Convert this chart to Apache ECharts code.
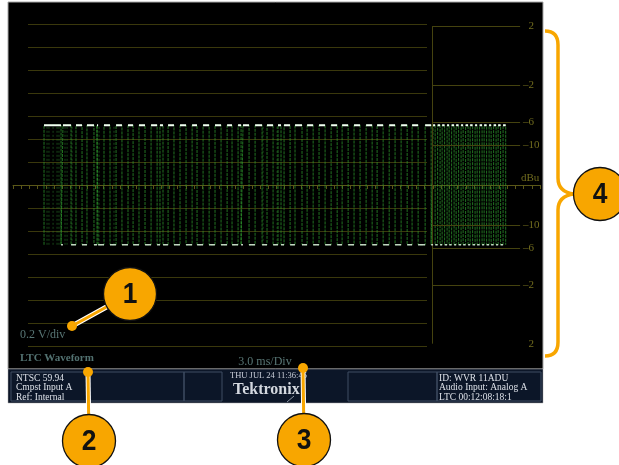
<!DOCTYPE html>
<html><head><meta charset="utf-8">
<script src="https://cdn.jsdelivr.net/npm/echarts@6/dist/echarts.min.js"></script>
<style>html,body{margin:0;padding:0;background:#fff;}#c{width:619px;height:465px;}</style>
</head><body><div id="c"></div>
<script>
// ---------------- data ----------------
const voltsPerDiv = 0.2;          // vertical scale
const msPerDiv = 3.0;             // horizontal scale
const highLevelV = 0.52;          // LTC top level
const lowLevelV = -0.52;          // LTC bottom level
const traceEndMs = 35.93;
// high pulses of the LTC trace: [rise ms, fall ms]
const pulsesMs = [
  [2.26,3.50],[3.64,4.23],[4.59,5.03],[5.39,5.90],[6.12,6.20],[6.63,7.07],[7.51,7.94],
  [8.38,8.75],[9.18,9.62],[10.06,10.50],[10.71,10.93],[11.30,11.73],[12.17,12.61],
  [13.05,13.41],[13.85,14.29],[14.72,15.16],[15.60,15.96],[16.40,16.62],[16.76,17.20],
  [17.64,18.15],[18.51,18.95],[19.31,19.53],[19.75,20.19],[20.55,21.06],[21.43,21.87],
  [22.30,22.74],[23.18,23.62],[23.98,24.42],[24.85,25.29],[25.73,26.17],[26.53,26.97],
  [27.41,27.84],[28.28,28.72],[29.08,29.52],[30.03,30.47],
  [30.61,30.76],[30.94,31.12],[31.27,31.45],[31.63,31.78],[31.96,32.14],[32.29,32.47],
  [32.65,32.80],[32.98,33.16],[33.31,33.49],[33.67,33.82],[34.00,34.18],[34.33,34.51],
  [34.69,34.84],[35.02,35.20],[35.35,35.53],[35.71,35.90]
];
// extra faint edges from overlapping frames
const ghostEdgesMs = [2.48,2.62,2.92,3.21,3.35,3.79,3.94,4.30,6.27,7.36,18.22,19.24];
// dBu meter scale
const dbuTicks = [2, -2, -6, -10];
const dbuRefPeakV = 1.096;   // 0 dBu peak voltage
// texts
const scaleTexts = ['0.2 V/div', 'LTC Waveform', '3.0 ms/Div'];
const statusLeft = ['NTSC 59.94', 'Cmpst Input A', 'Ref: Internal'];
const statusCenter = ['THU JUL 24 11:36:45', 'Tektronix'];
const statusRight = ['ID: WVR 11ADU', 'Audio Input: Analog A', 'LTC 00:12:08:18:1'];
const calloutLabels = ['1', '2', '3', '4'];

// ---------------- layout constants ----------------
const X_MAX = 38.4, Y_MAX = 1.4;
const DBU_START = 30.54, DBU_END = 36.95;
const GRID_C = '#3a380c', AXIS_C = '#5a5718', DBU_C = '#716c1e';
const ORANGE = '#f8a600';
const SERIF = '"Liberation Serif", "DejaVu Serif", serif';

// ---------------- build series data ----------------
const trace = [];
pulsesMs.forEach(([s, e]) => {
  trace.push([s, lowLevelV], [s, highLevelV], [e, highLevelV], [e, lowLevelV]);
});
trace.push([traceEndMs, lowLevelV]);

const topDash = [];
pulsesMs.forEach(([s, e]) => { topDash.push([s, highLevelV], [e, highLevelV], [e, '-']); });
const botDash = [];
for (let i = 0; i < pulsesMs.length; i++) {
  const e = pulsesMs[i][1];
  const n = i + 1 < pulsesMs.length ? pulsesMs[i + 1][0] : traceEndMs;
  botDash.push([e, lowLevelV], [n, lowLevelV], [n, '-']);
}
const ghost = [];
ghostEdgesMs.forEach(t => { ghost.push([t, lowLevelV], [t, highLevelV], [t, '-']); });

const lvl = d => dbuRefPeakV * Math.pow(10, d / 20);
const fmt = d => d > 0 ? '\u2002' + d : '\u2013' + Math.abs(d);
const dbuLines = [];
dbuTicks.forEach(d => {
  dbuLines.push([{ name: fmt(d), coord: [DBU_START, lvl(d)] }, { coord: [DBU_END, lvl(d)] }]);
});
dbuTicks.slice().reverse().forEach(d => {
  const item = [{ name: fmt(d), coord: [DBU_START, -lvl(d)] }, { coord: [DBU_END, -lvl(d)] }];
  if (d === 2) item[0].lineStyle = { color: 'rgba(0,0,0,0)' };
  dbuLines.push(item);
});
dbuLines.push([{ name: '', coord: [DBU_START, lvl(2)], label: { show: false } },
               { coord: [DBU_START, -lvl(2)] }]);

// ---------------- graphics ----------------
const txt = (text, x, y, font, fill, align) => ({
  type: 'text', z: 50,
  style: { text, x, y, font, fill, align: align || 'left', verticalAlign: 'middle' }
});
const g = [];
g.push({ type: 'rect', z: -10, shape: { x: 8, y: 2, width: 535, height: 367 },
  style: { fill: '#000', stroke: '#a8a8a8', lineWidth: 1 } });
g.push({ type: 'rect', z: -10, shape: { x: 8, y: 369, width: 535, height: 34 },
  style: { fill: '#0c1628', stroke: '#a8a8a8', lineWidth: 0.5 } });
[[11, 184], [184, 222], [348, 437], [437, 541]].forEach(([a, b]) => {
  g.push({ type: 'rect', z: -9, shape: { x: a, y: 372, width: b - a, height: 29 },
    style: { fill: 'none', stroke: '#3f4d62', lineWidth: 1 } });
});
g.push({ type: 'line', z: -8, shape: { x1: 287, y1: 402, x2: 294, y2: 396 }, style: { stroke: '#8b95a3', lineWidth: 1 } });
g.push(txt(scaleTexts[0], 20, 335, '12px ' + SERIF, '#587675'));
g.push(txt(scaleTexts[1], 20, 358, 'bold 11px ' + SERIF, '#527170'));
g.push(txt(scaleTexts[2], 265, 362, '12px ' + SERIF, '#587675', 'center'));
g.push(txt('dBu', 521, 178, '11px ' + SERIF, DBU_C));
statusLeft.forEach((t, i) => g.push(txt(t, 16, 378 + i * 9.5, '9.5px ' + SERIF, '#dde1e8')));
statusRight.forEach((t, i) => g.push(txt(t, 439, 378 + i * 9.5, '9.5px ' + SERIF, '#dde1e8')));
g.push(txt(statusCenter[0], 230, 376, '8.5px ' + SERIF, '#c9ced8'));
g.push(txt(statusCenter[1], 233, 390, 'bold 16px ' + SERIF, '#d4d8df'));

// callouts
const lead = (x1, y1, x2, y2) => [
  { type: 'line', z: 90, shape: { x1, y1, x2, y2 }, style: { stroke: '#ffffff', lineWidth: 5 } },
  { type: 'line', z: 91, shape: { x1, y1, x2, y2 }, style: { stroke: ORANGE, lineWidth: 3 } },
  { type: 'circle', z: 92, shape: { cx: x1, cy: y1, r: 5 }, style: { fill: ORANGE } }
];
const bubble = (cx, cy, label) => [
  { type: 'circle', z: 95, shape: { cx, cy, r: 26.5 }, style: { fill: ORANGE, stroke: '#111', lineWidth: 1.3 } },
  { type: 'text', z: 96, scaleX: 0.88, originX: cx, originY: cy,
    style: { text: label, x: cx, y: cy + 1, align: 'center', verticalAlign: 'middle',
      font: 'bold 30px "Liberation Sans", Arial, sans-serif', fill: '#111' } }
];
g.push(...lead(72, 326, 130, 294), ...bubble(130, 294, calloutLabels[0]));
g.push(...lead(88, 372, 89, 440), ...bubble(89, 441, calloutLabels[1]));
g.push(...lead(303, 368, 304, 439), ...bubble(304, 440, calloutLabels[2]));
const bs = { stroke: ORANGE, lineWidth: 3.5, fill: 'none' };
g.push({ type: 'bezierCurve', z: 90, shape: { x1: 545, y1: 31, cpx1: 558, cpy1: 31, x2: 558, y2: 45 }, style: bs });
g.push({ type: 'line', z: 90, shape: { x1: 558, y1: 45, x2: 558, y2: 178 }, style: bs });
g.push({ type: 'bezierCurve', z: 90, shape: { x1: 558, y1: 178, cpx1: 558, cpy1: 192, x2: 574, y2: 194 }, style: bs });
g.push({ type: 'bezierCurve', z: 90, shape: { x1: 574, y1: 194, cpx1: 558, cpy1: 196, x2: 558, y2: 210 }, style: bs });
g.push({ type: 'line', z: 90, shape: { x1: 558, y1: 210, x2: 558, y2: 342 }, style: bs });
g.push({ type: 'bezierCurve', z: 90, shape: { x1: 558, y1: 342, cpx1: 558, cpy1: 356, x2: 545, y2: 356 }, style: bs });
g.push(...bubble(600, 194, calloutLabels[3]));

// ---------------- chart ----------------
const chart = echarts.init(document.getElementById('c'));
chart.setOption({
  backgroundColor: '#ffffff',
  animation: false,
  grid: [
    { left: 13, top: 24, width: 527, height: 322 },
    { left: 28, top: 24, width: 399, height: 322 }
  ],
  xAxis: [
    { gridIndex: 0, type: 'value', min: 0, max: X_MAX, interval: msPerDiv / 5,
      axisLine: { onZero: true, lineStyle: { color: AXIS_C, width: 1 } },
      axisTick: { length: 4, lineStyle: { color: AXIS_C } },
      axisLabel: { show: false }, splitLine: { show: false } },
    { gridIndex: 1, type: 'value', min: 0, max: 1, show: false }
  ],
  yAxis: [
    { gridIndex: 0, type: 'value', min: -Y_MAX, max: Y_MAX,
      axisLine: { show: false }, axisTick: { show: false }, axisLabel: { show: false }, splitLine: { show: false } },
    { gridIndex: 1, type: 'value', min: -Y_MAX, max: Y_MAX, interval: voltsPerDiv,
      axisLine: { show: false }, axisTick: { show: false }, axisLabel: { show: false },
      splitLine: { show: true, lineStyle: { color: GRID_C, width: 1 } } }
  ],
  series: [
    { type: 'line', xAxisIndex: 1, yAxisIndex: 1, data: [], silent: true },
    { type: 'line', name: 'dBu', xAxisIndex: 0, yAxisIndex: 0, data: [], silent: true,
      markLine: { silent: true, symbol: ['none', 'none'], animation: false,
        lineStyle: { color: '#45430f', width: 1, type: 'solid' },
        label: { show: true, position: 'end', distance: 3, formatter: p => p.name,
          color: DBU_C, fontFamily: SERIF, fontSize: 11 },
        emphasis: { disabled: true },
        data: dbuLines } },
    { type: 'line', name: 'ghost', data: ghost, showSymbol: false, symbol: 'none', silent: true,
      connectNulls: false, z: 3,
      lineStyle: { color: '#2c7f2c', width: 1, opacity: 0.55, type: [2, 2] } },
    { type: 'line', name: 'LTC', data: trace, showSymbol: false, symbol: 'none', silent: true, z: 4,
      lineStyle: { color: '#2e982e', width: 1, opacity: 0.75, type: [3, 1] } },
    { type: 'line', name: 'top', data: topDash, showSymbol: false, symbol: 'none', silent: true,
      connectNulls: false, z: 5, lineStyle: { color: '#f2fff2', width: 2 } },
    { type: 'line', name: 'bottom', data: botDash, showSymbol: false, symbol: 'none', silent: true,
      connectNulls: false, z: 5, lineStyle: { color: '#d5e6d5', width: 1.5, opacity: 0.9 } }
  ],
  graphic: { elements: g }
});
</script>
</body></html>
